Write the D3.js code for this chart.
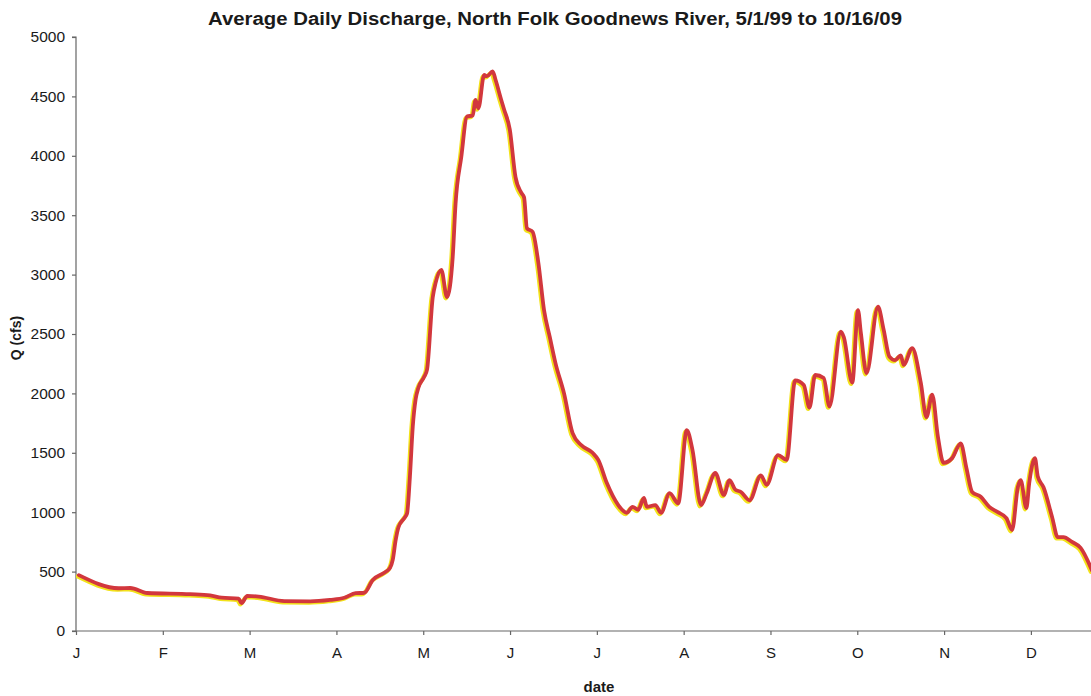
<!DOCTYPE html>
<html>
<head>
<meta charset="utf-8">
<script src="https://cdn.jsdelivr.net/npm/d3@7"></script>
<style>
  html, body { margin: 0; padding: 0; background: #fff; }
  svg { display: block; }
  text { font-family: "Liberation Sans", Arial, sans-serif; fill: #1a1a1a; }
</style>
</head>
<body>
<svg id="chart" width="1091" height="696"></svg>
<script>
// ---- data ----
const title = "Average Daily Discharge, North Folk Goodnews River, 5/1/99 to 10/16/09";
const monthLabels = ["J","F","M","A","M","J","J","A","S","O","N","D"];
const yTicks = [0, 500, 1000, 1500, 2000, 2500, 3000, 3500, 4000, 4500, 5000];
// day of year (0 = Jan 1)
const days = [1,15,19,25,40,47,51,57,58,60,64,73,82,89,94,98,101,104,108,110,111,112,113,115,116,117,118,119,120,122,123,125,126,128,130,132,133,135,137,139,140,141,143,144,146,147,149,150,152,154,156,157,158,160,162,164,166,168,171,174,177,181,183,186,190,193,195,197,199,200,203,205,208,211,214,216,219,221,224,227,229,231,233,236,240,242,246,249,252,255,257,259,262,264,268,269,272,274,275,277,281,283,285,287,289,290,293,296,298,300,302,304,307,310,312,314,317,320,323,326,328,330,331,333,334,336,337,339,342,344,346,349,352,356];
// discharge, cfs
const flow = [470,360,362,320,310,300,280,272,235,295,290,252,250,262,280,318,322,430,490,530,600,765,875,950,990,1300,1720,1950,2050,2140,2200,2810,2930,3040,2810,3150,3600,3990,4330,4340,4470,4400,4680,4670,4710,4640,4470,4390,4220,3820,3690,3650,3390,3360,3100,2700,2475,2255,2000,1665,1565,1500,1440,1245,1060,995,1045,1020,1120,1045,1060,995,1160,1075,1690,1525,1060,1160,1330,1145,1270,1190,1170,1100,1310,1230,1480,1440,2110,2070,1880,2155,2130,1890,2520,2475,2090,2700,2510,2170,2730,2535,2310,2280,2320,2240,2380,2090,1800,1990,1635,1415,1455,1580,1370,1170,1130,1045,1000,950,850,1210,1270,1035,1245,1455,1300,1210,960,790,790,750,700,510];

(function () {
const series = days.map((d, i) => ({ day: d, q: flow[i] }));

// ---- layout ----
const svg = d3.select("#chart");
const W = 1091;
const mLeft = 76, mTop = 37, mBottom = 631;
const pxPerDay = 2.854;

const x = d3.scaleLinear().domain([0, 365]).range([mLeft, mLeft + 365 * pxPerDay]);
const y = d3.scaleLinear().domain([0, 5000]).range([mBottom, mTop]);

svg.append("defs").append("clipPath").attr("id", "clip")
  .append("rect").attr("x", mLeft).attr("y", 0).attr("width", W - mLeft).attr("height", mBottom + 2);

// y axis
const yAxis = d3.axisLeft(y).tickValues(yTicks).tickSize(4).tickPadding(7).tickFormat(d3.format("d"));
const gy = svg.append("g").attr("transform", `translate(${mLeft},0)`).call(yAxis);
gy.selectAll("path, line").attr("stroke", "#666").attr("stroke-width", 1.2);
gy.select(".domain").attr("d", `M-4,${mTop}H0V${mBottom}H-4`);
gy.selectAll("text").style("font-size", "15.5px").style("font-family", "'Liberation Sans', Arial, sans-serif").attr("fill", "#1a1a1a");

// x axis
const monthPos = monthLabels.map((m, i) => i * 365 / 12);
const xAxis = d3.axisBottom(x).tickValues(monthPos).tickSize(4).tickPadding(12)
  .tickFormat((d, i) => monthLabels[i]);
const gx = svg.append("g").attr("transform", `translate(0,${mBottom})`).call(xAxis);
gx.selectAll("path, line").attr("stroke", "#666").attr("stroke-width", 1.2);
gx.select(".domain").attr("d", `M${mLeft},0H${W}`);
gx.selectAll("text").style("font-size", "15px").style("font-family", "'Liberation Sans', Arial, sans-serif").attr("fill", "#1a1a1a");

// line
const line = d3.line().x(d => x(d.day)).y(d => y(d.q)).curve(d3.curveMonotoneX);
const plot = svg.append("g").attr("clip-path", "url(#clip)");
plot.append("path").datum(series)
  .attr("d", line).attr("fill", "none")
  .attr("stroke", "#f2e21a").attr("stroke-width", 4.2)
  .attr("stroke-linejoin", "round").attr("stroke-linecap", "round")
  .attr("transform", "translate(-1.3,1.3)");
plot.append("path").datum(series)
  .attr("d", line).attr("fill", "none")
  .attr("stroke", "#d2373d").attr("stroke-width", 3.8)
  .attr("stroke-linejoin", "round").attr("stroke-linecap", "round");

// titles
svg.append("text").attr("x", 208).attr("y", 25)
  .attr("textLength", 694).attr("lengthAdjust", "spacingAndGlyphs")
  .style("font-size", "18px").style("font-weight", "bold").text(title);
svg.append("text").attr("transform", `translate(21,338) rotate(-90)`)
  .attr("text-anchor", "middle").style("font-size", "14px").style("font-weight", "bold").text("Q (cfs)");
svg.append("text").attr("x", 599).attr("y", 692).attr("text-anchor", "middle")
  .style("font-size", "15px").style("font-weight", "bold").text("date");
})();
</script>
</body>
</html>
